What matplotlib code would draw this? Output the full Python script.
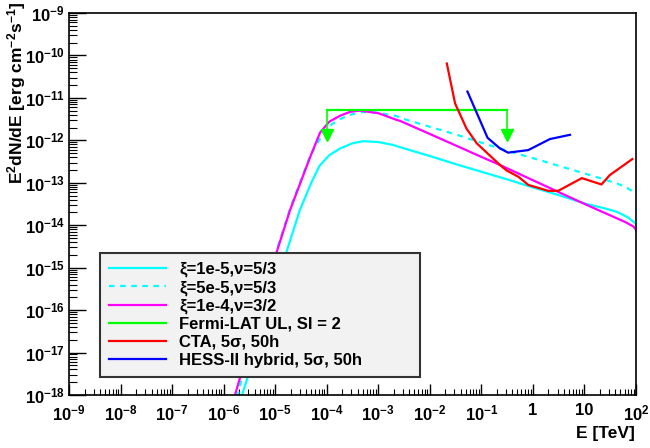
import numpy as np
import matplotlib
matplotlib.use("Agg")
import matplotlib.pyplot as plt
from matplotlib.ticker import FixedLocator, NullFormatter, LogLocator

# ---------------- data (log10 E [TeV], log10 E^2dN/dE) ----------------
cyan_logE = [-5.72, -5.20, -4.81, -4.52, -4.30, -4.14, -3.95, -3.74, -3.50, -3.29,
             -3.00, -2.71, -2.58, -2.00, -1.50, -1.00, -0.50, 0.00, 0.50, 1.04,
             1.35, 1.62, 1.85, 1.95, 2.00]
cyan_logF = [-18.3, -16.3, -14.74, -13.64, -13.00, -12.60, -12.35, -12.19, -12.07, -12.02,
             -12.04, -12.11, -12.16, -12.37, -12.56, -12.74, -12.92, -13.11, -13.29, -13.50,
             -13.59, -13.68, -13.82, -13.92, -13.97]

dash_logE = [-5.78, -5.40, -5.00, -4.71, -4.32, -4.07, -3.90, -3.74, -3.55, -3.29,
             -3.00, -2.64, -2.58, -2.00, -1.50, -0.96, -0.48, 0.00, 0.50, 1.00,
             1.30, 1.62, 1.80, 1.97, 2.00]
dash_logF = [-18.3, -16.3, -14.70, -13.60, -12.36, -11.83, -11.62, -11.50, -11.40, -11.33,
             -11.35, -11.43, -11.47, -11.68, -11.86, -12.07, -12.25, -12.42, -12.60, -12.78,
             -12.89, -13.01, -13.10, -13.23, -13.25]

mag_logE = [-5.85, -5.40, -5.00, -4.71, -4.32, -4.13, -3.95, -3.74, -3.55, -3.355,
            -3.00, -2.64, -2.58, -2.00, -1.50, -1.00, -0.64, 0.00, 0.50, 1.04,
            1.30, 1.56, 1.80, 1.95, 2.00]
mag_logF = [-18.3, -16.4, -14.74, -13.64, -12.39, -11.82, -11.56, -11.42, -11.33, -11.30,
            -11.36, -11.52, -11.54, -11.85, -12.12, -12.39, -12.58, -12.94, -13.22, -13.52,
            -13.66, -13.80, -13.93, -14.03, -14.11]

fermi_E = [1e-4, 0.316]
fermi_UL = 5.2e-12

cta_logE = [-1.67, -1.51, -1.29, -1.09, -0.64, -0.51, -0.28, -0.09, 0.30, 0.49,
            0.95, 1.33, 1.49, 1.93]
cta_logF = [-10.19, -11.13, -11.72, -12.07, -12.58, -12.71, -12.86, -13.05, -13.19, -13.19,
            -12.89, -13.04, -12.82, -12.44]

hess_logE = [-1.27, -0.88, -0.64, -0.48, -0.09, 0.33, 0.72]
hess_logF = [-10.85, -11.94, -12.19, -12.29, -12.23, -11.97, -11.87]

labels = ["\u03be=1e-5,\u03bd=5/3", "\u03be=5e-5,\u03bd=5/3", "\u03be=1e-4,\u03bd=3/2",
          "Fermi-LAT UL, SI = 2", "CTA, 5\u03c3, 50h", "HESS-II hybrid, 5\u03c3, 50h"]

x_ticks_exp = list(range(-9, 3))
x_tick_labels = [r"$10^{-9}$", r"$10^{-8}$", r"$10^{-7}$", r"$10^{-6}$", r"$10^{-5}$",
                 r"$10^{-4}$", r"$10^{-3}$", r"$10^{-2}$", r"$10^{-1}$", "1", "10", r"$10^{2}$"]
y_ticks_exp = list(range(-18, -8))
y_tick_labels = [r"$10^{%d}$" % e for e in y_ticks_exp]

# ---------------- style ----------------
plt.rcParams['font.family'] = ['Liberation Sans', 'DejaVu Sans']
plt.rcParams['font.weight'] = 'bold'
plt.rcParams['mathtext.fontset'] = 'custom'
plt.rcParams['mathtext.rm'] = 'Liberation Sans:bold'
plt.rcParams['mathtext.it'] = 'Liberation Sans:bold'
plt.rcParams['mathtext.bf'] = 'Liberation Sans:bold'
plt.rcParams['mathtext.default'] = 'rm'

fig = plt.figure(figsize=(6.5, 4.48), dpi=100)
ax = fig.add_axes([69/650, 1-395/448, 567/650, 382/448])

p = lambda a: 10.0 ** np.asarray(a)
lw = 1.6
l1, = ax.plot(p(cyan_logE), p(cyan_logF), color='#00ffff', lw=lw)
l2, = ax.plot(p(dash_logE), p(dash_logF), color='#00ffff', lw=lw, ls=(0, (2.5, 2.5)))
l3, = ax.plot(p(mag_logE), p(mag_logF), color='#ff00ff', lw=lw)

green = '#00ff00'
l4, = ax.plot(fermi_E, [fermi_UL, fermi_UL], color=green, lw=lw)
for e in fermi_E:
    ax.plot([e, e], [fermi_UL, fermi_UL / 10**0.5], color=green, lw=1.2)
    ax.plot([e], [fermi_UL / 10**0.6], marker='v', color=green, ms=9, mec=green, ls='none')

l5, = ax.plot(p(cta_logE), p(cta_logF), color='#ff0000', lw=lw)
l6, = ax.plot(p(hess_logE), p(hess_logF), color='#0000ff', lw=lw)

ax.set_xscale('log')
ax.set_yscale('log')
ax.set_xlim(1e-9, 1e2)
ax.set_ylim(1e-18, 1e-9)

ax.xaxis.set_major_locator(FixedLocator([10.0**e for e in x_ticks_exp]))
ax.set_xticklabels(x_tick_labels)
ax.xaxis.set_minor_locator(LogLocator(base=10, subs=np.arange(2, 10), numticks=100))
ax.xaxis.set_minor_formatter(NullFormatter())
ax.yaxis.set_major_locator(FixedLocator([10.0**e for e in y_ticks_exp]))
ax.set_yticklabels(y_tick_labels)
ax.yaxis.set_minor_locator(LogLocator(base=10, subs=np.arange(2, 10), numticks=100))
ax.yaxis.set_minor_formatter(NullFormatter())

ax.tick_params(axis='both', which='both', direction='in', top=False, right=False, labelsize=12)
ax.tick_params(axis='x', which='major', length=8, width=1, pad=6)
ax.tick_params(axis='x', which='minor', length=4, width=0.8)
ax.tick_params(axis='y', which='major', length=12, width=1, pad=3)
ax.tick_params(axis='y', which='minor', length=6, width=0.8)
for s in ax.spines.values():
    s.set_linewidth(1.2)

fig.text(0.026, 0.995, r"E$^{2}$dN/dE [erg cm$^{-2}$s$^{-1}$]", rotation=90,
         ha='center', va='top', fontsize=12.5, fontweight='bold')
fig.text(0.977, 0.015, "E [TeV]", ha='right', va='bottom', fontsize=12.5, fontweight='bold')

leg = ax.legend([l1, l2, l3, l4, l5, l6], labels, loc='lower left',
                bbox_to_anchor=((100-69)/567, (395-376.7)/382, (420-100)/567, (376.7-256.7)/382),
                mode='expand', borderaxespad=0, fontsize=12, handlelength=3.4,
                handletextpad=0.8, labelspacing=0.17, borderpad=0.55,
                fancybox=False, framealpha=1, facecolor='#f2f2f2', edgecolor='#333333')
leg.get_frame().set_linewidth(1.5)

fig.savefig('out.png', dpi=100)
